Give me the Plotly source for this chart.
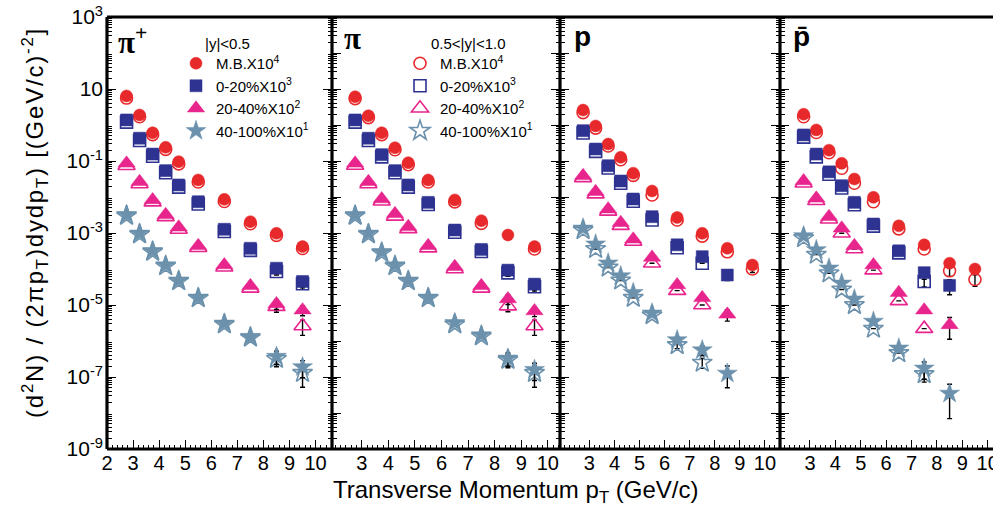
import plotly.graph_objects as go

# ---------------- data ----------------
pt = [2.75, 3.25, 3.75, 4.25, 4.75, 5.5, 6.5, 7.5, 8.5, 9.5]

series_names = ["M.B.X10<sup>4</sup>", "0-20%X10<sup>3</sup>",
                "20-40%X10<sup>2</sup>", "40-100%X10<sup>1</sup>"]
rap_titles = ["|y|<0.5", "0.5<|y|<1.0"]
panel_labels = ["π<sup>+</sup>", "π", "p", "p̄"]
x_major_first = [2, 3, 4, 5, 6, 7, 8, 9, 10]
x_major_other = [3, 4, 5, 6, 7, 8, 9, 10]
y_label_exps = [3, 1, -1, -3, -5, -7, -9]

# pi+  (c: |y|<0.5 filled, f: 0.5<|y|<1.0 open)
pip_mb_c = [6.4, 1.9, 0.61, 0.24, 0.096, 0.0297, 8.6e-3, 2.06e-3, 9.8e-4, 4.2e-4]
pip_mb_f = [5.6, 1.7, 0.54, 0.21, 0.083, 0.026, 7.5e-3, 1.8e-3, 8.6e-4, 3.7e-4]
pip_c0_c = [1.38, 0.43, 0.156, 0.054, 0.0216, 7.4e-3, 1.27e-3, 3.76e-4, 1.05e-4, 4.5e-5]
pip_c0_f = [1.2, 0.37, 0.135, 0.047, 0.0188, 6.4e-3, 1.1e-3, 3.3e-4, 8.5e-5, 3.9e-5]
pip_c1_c = [0.086, 0.0266, 8.3e-3, 3.2e-3, 1.44e-3, 4.4e-4, 1.29e-4, 3.4e-5, 1.07e-5, 7.2e-6]
pip_c1_f = [0.074, 0.023, 7.2e-3, 2.8e-3, 1.25e-3, 3.9e-4, 1.12e-4, 2.9e-5, 9.0e-6, 2.6e-6]
pip_c2_c = [3.2e-3, 9.8e-4, 3.2e-4, 1.29e-4, 4.9e-5, 1.64e-5, 3.1e-6, 1.32e-6, 3.7e-7, 1.9e-7]
pip_c2_f = [3.0e-3, 9.2e-4, 3.0e-4, 1.2e-4, 4.6e-5, 1.55e-5, 2.9e-6, 1.25e-6, 3.2e-7, 1.3e-7]

# pi
pi_mb_c = [6.1, 1.81, 0.61, 0.234, 0.09, 0.0297, 8.3e-3, 2.2e-3, 8.8e-4, 4.2e-4]
pi_mb_f = [5.4, 1.6, 0.54, 0.205, 0.079, 0.026, 7.3e-3, 1.85e-3, None, 3.6e-4]
pi_c0_c = [1.38, 0.43, 0.15, 0.054, 0.0216, 7.1e-3, 1.21e-3, 3.5e-4, 9.3e-5, 3.8e-5]
pi_c0_f = [1.2, 0.37, 0.13, 0.047, 0.0188, 6.2e-3, 1.05e-3, 3.05e-4, 7.8e-5, 3.2e-5]
pi_c1_c = [0.086, 0.0266, 8.8e-3, 3.4e-3, 1.5e-3, 4.4e-4, 1.16e-4, 3.4e-5, 1.47e-5, 6.8e-6]
pi_c1_f = [0.075, 0.023, 7.6e-3, 2.9e-3, 1.3e-3, 3.8e-4, 1.0e-4, 2.9e-5, 9.3e-6, 2.6e-6]
pi_c2_c = [3.2e-3, 9.8e-4, 3.0e-4, 1.29e-4, 4.9e-5, 1.64e-5, 3.2e-6, 1.47e-6, 3.3e-7, 1.6e-7]
pi_c2_f = [3.0e-3, 9.2e-4, 2.8e-4, 1.2e-4, 4.6e-5, 1.55e-5, 2.9e-6, 1.35e-6, 3.0e-7, 1.3e-7]

# p
p_mb_c = [2.6, 0.94, 0.296, 0.127, 0.046, 0.0147, 2.7e-3, 9.8e-4, 3.76e-4, 1.29e-4]
p_mb_f = [2.2, 0.82, 0.26, 0.108, 0.04, 0.0114, 2.3e-3, 8.2e-4, 3.0e-4, 1.0e-4]
p_c0_c = [0.695, 0.215, 0.074, 0.0278, 8.8e-3, 2.84e-3, 4.7e-4, 2.2e-4, 6.8e-5, None]
p_c0_f = [0.6, 0.185, 0.064, 0.024, 7.6e-3, 2.3e-3, 3.9e-4, 1.45e-4, None, None]
p_c1_c = [0.039, 0.014, 4.6e-3, 1.94e-3, 6.7e-4, 2.1e-4, 3.6e-5, 1.58e-5, 5.5e-6, None]
p_c1_f = [0.034, 0.012, 4.0e-3, 1.6e-3, 5.8e-4, 1.45e-4, 2.5e-5, 1.0e-5, None, None]
p_c2_c = [1.35e-3, 4.9e-4, 1.45e-4, 6.4e-5, 2.2e-5, 5.9e-6, 1.07e-6, 5.6e-7, 1.26e-7, None]
p_c2_f = [1.2e-3, 3.6e-4, 1.1e-4, 4.8e-5, 1.58e-5, 5.2e-6, 7.7e-7, 2.5e-7, None, None]

# pbar
pb_mb_c = [2.0, 0.73, 0.2, 0.086, 0.0316, 9.8e-3, 1.58e-3, 4.7e-4, 1.45e-4, 1.0e-4]
pb_mb_f = [1.7, 0.62, 0.17, 0.063, 0.024, 7.4e-3, 1.3e-3, 3.6e-4, 8.9e-5, 5.1e-5]
pb_c0_c = [0.53, 0.156, 0.05, 0.0206, 7.1e-3, 1.78e-3, 3.2e-4, 7.9e-5, 3.5e-5, None]
pb_c0_f = [0.46, 0.13, 0.043, 0.0178, 6.1e-3, 1.55e-3, 2.8e-4, 4.5e-5, None, None]
pb_c1_c = [0.0278, 9.2e-3, 2.84e-3, 1.35e-3, 4.4e-4, 1.29e-4, 2.2e-5, 7.2e-6, 2.8e-6, None]
pb_c1_f = [0.024, 7.9e-3, 2.4e-3, 9.8e-4, 3.6e-4, 9.3e-5, 1.3e-5, 2.2e-6, None, None]
pb_c2_c = [8.3e-4, 3.4e-4, 1.05e-4, 4.0e-5, 1.45e-5, 3.5e-6, 6.3e-7, 1.74e-7, 3.5e-8, None]
pb_c2_f = [7.2e-4, 2.5e-4, 7.6e-5, 2.7e-5, 1.0e-5, 2.2e-6, 4.6e-7, 1.2e-7, None, None]

# relative errors (None = not drawn)
N = None
pip_mb_c_err = [N, N, N, N, N, N, N, N, 0.08, 0.1]
pip_mb_f_err = [N, N, N, N, N, N, N, N, N, 0.1]
pip_c0_c_err = [N, N, N, N, N, N, N, 0.1, 0.2, 0.3]
pip_c0_f_err = [N, N, N, N, N, N, N, N, 0.2, 0.3]
pip_c1_c_err = [N, N, N, N, N, N, N, N, 0.3, 0.3]
pip_c1_f_err = [N, N, N, N, N, N, N, N, 0.3, 0.45]
pip_c2_c_err = [N, N, N, N, N, N, 0.1, 0.15, 0.4, 0.5]
pip_c2_f_err = [N, N, N, N, N, N, N, N, 0.4, 0.6]

pi_mb_c_err = [N, N, N, N, N, N, N, N, N, 0.1]
pi_mb_f_err = [N, N, N, N, N, N, N, N, N, 0.1]
pi_c0_c_err = [N, N, N, N, N, N, N, N, 0.2, 0.35]
pi_c0_f_err = [N, N, N, N, N, N, N, N, 0.2, 0.3]
pi_c1_c_err = [N, N, N, N, N, N, N, N, 0.3, 0.3]
pi_c1_f_err = [N, N, N, N, N, N, N, N, 0.3, 0.45]
pi_c2_c_err = [N, N, N, N, N, N, 0.1, 0.15, 0.4, 0.5]
pi_c2_f_err = [N, N, N, N, N, N, N, N, 0.4, 0.6]

p_mb_c_err = [N, N, N, N, N, N, N, N, 0.1, 0.2]
p_mb_f_err = [N, N, N, N, N, N, N, N, N, 0.2]
p_c0_c_err = [N, N, N, N, N, N, N, 0.2, 0.3, N]
p_c0_f_err = [N, N, N, N, N, N, N, N, N, N]
p_c1_c_err = [N, N, N, N, N, N, N, 0.15, 0.35, N]
p_c1_f_err = [N, N, N, N, N, N, N, N, N, N]
p_c2_c_err = [N, N, N, N, N, N, 0.2, 0.3, 0.6, N]
p_c2_f_err = [N, N, N, N, N, N, 0.2, 0.3, N, N]

pb_mb_c_err = [N, N, N, N, N, N, N, 0.15, 0.25, 0.2]
pb_mb_f_err = [N, N, N, N, N, N, N, N, 0.3, 0.35]
pb_c0_c_err = [N, N, N, N, N, N, N, 0.35, 0.45, N]
pb_c0_f_err = [N, N, N, N, N, N, N, 0.3, N, N]
pb_c1_c_err = [N, N, N, N, N, N, N, N, 0.6, N]
pb_c1_f_err = [N, N, N, N, N, N, N, N, N, N]
pb_c2_c_err = [N, N, N, N, N, N, N, 0.5, 0.8, N]
pb_c2_f_err = [N, N, N, N, N, N, N, 0.4, N, N]

panels = [
    [(pip_mb_c, pip_mb_f, pip_mb_c_err, pip_mb_f_err), (pip_c0_c, pip_c0_f, pip_c0_c_err, pip_c0_f_err),
     (pip_c1_c, pip_c1_f, pip_c1_c_err, pip_c1_f_err), (pip_c2_c, pip_c2_f, pip_c2_c_err, pip_c2_f_err)],
    [(pi_mb_c, pi_mb_f, pi_mb_c_err, pi_mb_f_err), (pi_c0_c, pi_c0_f, pi_c0_c_err, pi_c0_f_err),
     (pi_c1_c, pi_c1_f, pi_c1_c_err, pi_c1_f_err), (pi_c2_c, pi_c2_f, pi_c2_c_err, pi_c2_f_err)],
    [(p_mb_c, p_mb_f, p_mb_c_err, p_mb_f_err), (p_c0_c, p_c0_f, p_c0_c_err, p_c0_f_err),
     (p_c1_c, p_c1_f, p_c1_c_err, p_c1_f_err), (p_c2_c, p_c2_f, p_c2_c_err, p_c2_f_err)],
    [(pb_mb_c, pb_mb_f, pb_mb_c_err, pb_mb_f_err), (pb_c0_c, pb_c0_f, pb_c0_c_err, pb_c0_f_err),
     (pb_c1_c, pb_c1_f, pb_c1_c_err, pb_c1_f_err), (pb_c2_c, pb_c2_f, pb_c2_c_err, pb_c2_f_err)],
]

# ---------------- style ----------------
W, H = 993, 506
TOP, BOT = 17, 449          # plot area top / bottom in pixels
PH = BOT - TOP
colors = ["#e8292b", "#2e3391", "#e8258d", "#6b91ac"]
symbols = ["circle", "square", "triangle-up", "star"]
sizes = [12, 12, 15, 15]
FONT = "Liberation Sans, Arial, Helvetica, sans-serif"

edges_px = [107, 332, 560, 780, 993]
x_ranges = [[2.0, 10.63], [1.88, 10.46], [1.83, 10.6], [1.82, 10.21]]


def py(ypx):
    return (BOT - ypx) / PH


def abs_err(vals, rel):
    return [None if (v is None or r is None) else v * r for v, r in zip(vals, rel)]


fig = go.Figure()
for p, ser in enumerate(panels):
    xa = "x" if p == 0 else f"x{p+1}"
    ya = "y" if p == 0 else f"y{p+1}"
    for s, (vc, vf, ec, ef) in enumerate(ser):
        fig.add_trace(go.Scatter(
            x=pt, y=vf, mode="markers", xaxis=xa, yaxis=ya,
            name=series_names[s], legend="legend2", showlegend=(p == 0),
            marker=dict(symbol=symbols[s] + "-open", size=sizes[s], color=colors[s],
                        line=dict(color=colors[s], width=1.6)),
            error_y=dict(type="data", array=abs_err(vf, ef), symmetric=True,
                         color="black", thickness=1.4, width=2.5),
        ))
        fig.add_trace(go.Scatter(
            x=pt, y=vc, mode="markers", xaxis=xa, yaxis=ya,
            name=series_names[s], legend="legend", showlegend=(p == 0),
            marker=dict(symbol=symbols[s], size=sizes[s], color=colors[s],
                        line=dict(color=colors[s], width=0.5)),
            error_y=dict(type="data", array=abs_err(vc, ec), symmetric=True,
                         color="black", thickness=1.4, width=2.5),
        ))

y_all_decades = [10.0 ** k for k in range(-9, 4)]
y_label_vals = [10.0 ** k for k in y_label_exps]
y_label_text = ["10" if k == 1 else f"10<sup>{k}</sup>" for k in y_label_exps]
y_minor = [m * 10.0 ** k for k in range(-9, 3) for m in range(2, 10)]

layout = dict(
    width=W, height=H,
    margin=dict(l=0, r=0, t=TOP, b=H - BOT, pad=0),
    paper_bgcolor="white", plot_bgcolor="rgba(0,0,0,0)",
    font=dict(family=FONT, color="black"),
    template="none",
)
tick_common = dict(ticks="inside", ticklen=9, tickwidth=1.3, tickcolor="black",
                   showgrid=False, zeroline=False, showline=False, automargin=False)
for p in range(4):
    xk = "xaxis" if p == 0 else f"xaxis{p+1}"
    yk = "yaxis" if p == 0 else f"yaxis{p+1}"
    ya = "y" if p == 0 else f"y{p+1}"
    xa = "x" if p == 0 else f"x{p+1}"
    dom = [edges_px[p] / W, edges_px[p + 1] / W]
    xt = x_major_first if p == 0 else x_major_other
    layout[xk] = dict(
        domain=dom, anchor=ya, range=x_ranges[p],
        tickmode="array", tickvals=xt, ticktext=[str(v) for v in xt],
        tickfont=dict(size=20, family=FONT), ticklabeloverflow="allow",
        minor=dict(dtick=0.2, tick0=2, ticks="inside", ticklen=4.5, tickwidth=1,
                   tickcolor="black", showgrid=False),
        **tick_common,
    )
    layout[yk] = dict(
        domain=[0, 1], anchor=xa, type="log", range=[-9, 3],
        mirror=("ticks" if p < 3 else False),
        tickmode="array",
        tickvals=(y_label_vals if p == 0 else y_all_decades),
        ticktext=(y_label_text if p == 0 else None),
        showticklabels=(p == 0), tickfont=dict(size=21, family=FONT),
        ticklabelstandoff=3,
        minor=dict(tickmode="array", tickvals=y_minor, ticks="inside", ticklen=4.5,
                   tickwidth=1, tickcolor="black", showgrid=False),
        **tick_common,
    )
# overlay axis carrying the unlabelled decade ticks of the first panel
layout["yaxis5"] = dict(
    overlaying="y", anchor="x", side="left", type="log", range=[-9, 3],
    mirror="ticks", tickmode="array", tickvals=y_all_decades, showticklabels=False,
    **tick_common,
)

legend_common = dict(xanchor="left", yanchor="top", bgcolor="rgba(0,0,0,0)", borderwidth=0,
                     font=dict(size=15, family=FONT), tracegroupgap=0, itemsizing="trace")
layout["legend"] = dict(x=176 / W, y=py(47), **legend_common)
layout["legend2"] = dict(x=400 / W, y=py(47), **legend_common)

shapes = []
for yv in (0, 1):
    shapes.append(dict(type="line", xref="paper", yref="paper", x0=edges_px[0] / W, x1=1.0,
                       y0=yv, y1=yv, line=dict(color="black", width=3.2), layer="above"))
for e in edges_px[:4]:
    shapes.append(dict(type="line", xref="paper", yref="paper", x0=e / W, x1=e / W, y0=0, y1=1,
                       line=dict(color="black", width=3.2), layer="above"))
layout["shapes"] = shapes

annotations = []
lab_fonts = [dict(size=31, family="Liberation Serif, Times New Roman, serif"),
             dict(size=31, family="Liberation Serif, Times New Roman, serif"),
             dict(size=28, family="Liberation Sans, Arial, sans-serif"),
             dict(size=28, family="Liberation Sans, Arial, sans-serif")]
lab_shift = [9, 10, 12, 11]
for p in range(4):
    xd = "x domain" if p == 0 else f"x{p+1} domain"
    yd = "y domain" if p == 0 else f"y{p+1} domain"
    annotations.append(dict(text=f"<b>{panel_labels[p]}</b>", xref=xd, yref=yd, x=0, y=1,
                            xshift=lab_shift[p], yshift=-2,
                            xanchor="left", yanchor="top", showarrow=False, font=lab_fonts[p]))
# rapidity headers of the two legends
annotations.append(dict(text=rap_titles[0], xref="paper", yref="paper", x=227 / W, y=py(43),
                        xanchor="center", yanchor="middle", showarrow=False,
                        font=dict(size=15, family=FONT)))
annotations.append(dict(text=rap_titles[1], xref="paper", yref="paper", x=468 / W, y=py(43),
                        xanchor="center", yanchor="middle", showarrow=False,
                        font=dict(size=15, family=FONT)))
annotations.append(dict(text="Transverse Momentum p<sub>T</sub> (GeV/c)", xref="paper", yref="paper",
                        x=515 / W, y=py(491), xanchor="center", yanchor="middle",
                        showarrow=False, font=dict(size=24, family=FONT)))
annotations.append(dict(
    text='<span style="letter-spacing:1.8px">(d<sup>2</sup>N) / (2πp<sub>T</sub>)dydp<sub>T</sub>) '
         '[(GeV/c)<sup>-2</sup>]</span>',
    xref="paper", yref="paper", x=35 / W, y=py(223),
    xanchor="center", yanchor="middle", textangle=-90,
    showarrow=False, font=dict(size=24, family=FONT)))
layout["annotations"] = annotations

fig.update_layout(**layout)
fig.write_html("out.html", config={"displayModeBar": False},
               post_script="document.body.style.margin='0px';")
